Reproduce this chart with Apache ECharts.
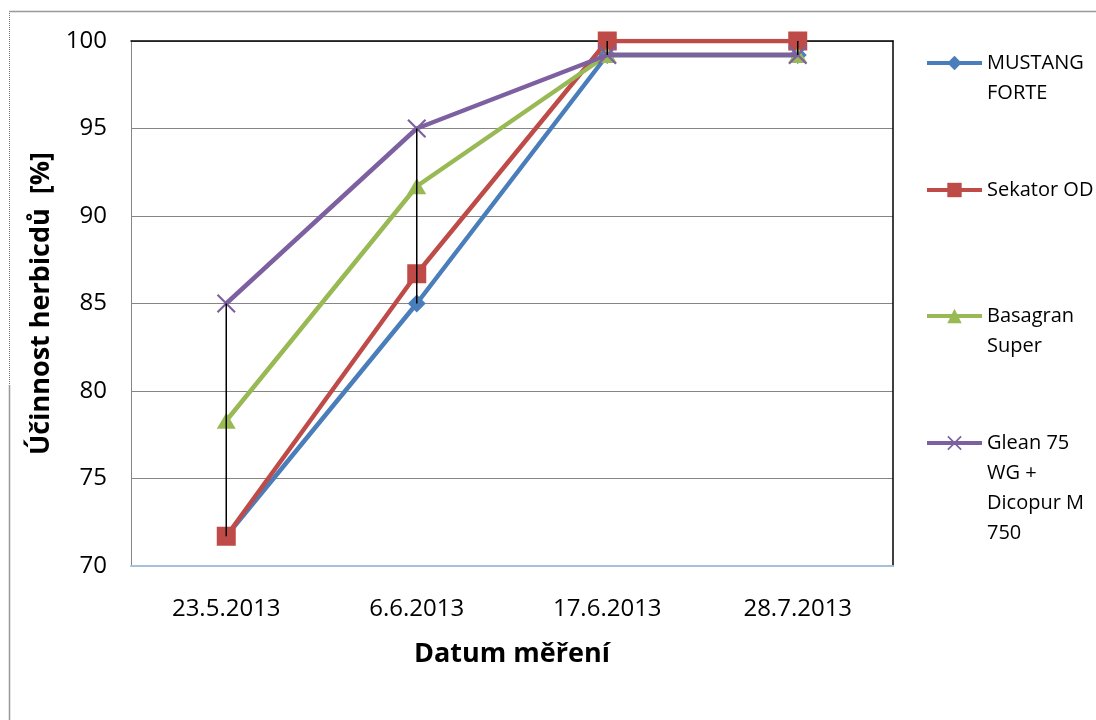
<!DOCTYPE html>
<html>
<head>
<meta charset="utf-8">
<script src="https://cdn.jsdelivr.net/npm/echarts@6/dist/echarts.min.js"></script>
<style>
  html, body { margin: 0; padding: 0; background: #fff; }
  #chart { width: 1096px; height: 720px; }
</style>
</head>
<body>
<div id="chart"></div>
<script>
// Measurement dates
var dates = ['23.5.2013', '6.6.2013', '17.6.2013', '28.7.2013'];

// Herbicide efficacy [%] per product
var mustangForte = [71.7, 85, 99.2, 99.2];
var sekatorOD = [71.7, 86.7, 100, 100];
var basagranSuper = [78.3, 91.7, 99.2, 99.2];
var gleanDicopur = [85, 95, 99.2, 99.2];

var seriesNames = ['MUSTANG FORTE', 'Sekator OD', 'Basagran Super', 'Glean 75 WG + Dicopur M 750'];
var legendLabels = ['MUSTANG\nFORTE', 'Sekator OD', 'Basagran\nSuper', 'Glean 75\nWG +\nDicopur M\n750'];

// Value-axis ticks
var yMin = 70, yMax = 100, yStep = 5;

var allSeries = [mustangForte, sekatorOD, basagranSuper, gleanDicopur];
var colors = ['#4a7ebb', '#be4b48', '#98b954', '#7d60a0'];
var symbols = [
  'diamond',
  'rect',
  'triangle',
  'path://M0,0.8L0.8,0L5,4.2L9.2,0L10,0.8L5.8,5L10,9.2L9.2,10L5,5.8L0.8,10L0,9.2L4.2,5Z'
];
var symbolSizes = [[18, 18], [19, 19], [19, 16], [19, 19]];

// High-low range per date, spanning all products
var ranges = dates.map(function (d, i) {
  var vals = allSeries.map(function (s) { return s[i]; });
  return [i, Math.min.apply(null, vals), Math.max.apply(null, vals)];
});

var FONT = '"Open Sans", sans-serif';
var LH = 30;
var iconY = [63, 190, 316, 443];

var legends = seriesNames.map(function (name, k) {
  var n = legendLabels[k].split('\n').length;
  return {
    data: [name],
    left: 925,
    top: iconY[k] - (2 * n - 1) * LH / 2,
    padding: 0,
    itemWidth: 55,
    itemHeight: 18,
    itemGap: 0,
    selectedMode: false,
    lineStyle: { width: 4 },
    formatter: function () {
      return new Array(n).join('\n') + legendLabels[k];
    },
    textStyle: { fontFamily: FONT, fontSize: 20, color: '#000', lineHeight: LH, padding: [0, 0, 0, 0] }
  };
});

var lineSeries = seriesNames.map(function (name, k) {
  return {
    name: name,
    type: 'line',
    data: allSeries[k],
    symbol: symbols[k],
    symbolSize: symbolSizes[k],
    showAllSymbol: true,
    lineStyle: { color: colors[k], width: 4.5 },
    itemStyle: { color: colors[k] },
    z: 2 + k,
    animation: false
  };
});

var chart = echarts.init(document.getElementById('chart'));
chart.setOption({
  backgroundColor: '#fff',
  animation: false,
  legend: legends,
  grid: { left: 131, right: 203, top: 41, bottom: 154 },
  xAxis: [{
    type: 'category',
    data: dates,
    boundaryGap: true,
    axisLine: { lineStyle: { color: '#a7bfde', width: 2 } },
    axisTick: { alignWithLabel: true, length: 6, lineStyle: { color: '#a7bfde', width: 1 } },
    axisLabel: { fontFamily: FONT, fontSize: 24, color: '#000', margin: 31 },
    name: 'Datum měření',
    nameLocation: 'middle',
    nameGap: 75,
    nameTextStyle: { fontFamily: FONT, fontSize: 27, fontWeight: 'bold', color: '#000' }
  }, {
    type: 'category',
    data: dates,
    position: 'top',
    axisLine: { lineStyle: { color: '#000', width: 1.5 } },
    axisTick: { show: false },
    axisLabel: { show: false }
  }],
  yAxis: [{
    type: 'value',
    min: yMin,
    max: yMax,
    interval: yStep,
    axisLine: { show: true, lineStyle: { color: '#868686', width: 1 } },
    axisTick: { show: false },
    splitLine: { lineStyle: { color: '#868686', width: 1 } },
    axisLabel: { fontFamily: FONT, fontSize: 24, color: '#000', margin: 24 },
    name: 'Účinnost herbicdů  [%]',
    nameLocation: 'middle',
    nameGap: 64,
    nameTextStyle: { fontFamily: FONT, fontSize: 27, fontWeight: 'bold', color: '#000' }
  }, {
    type: 'value',
    min: yMin,
    max: yMax,
    interval: yStep,
    position: 'right',
    axisLine: { show: true, lineStyle: { color: '#000', width: 1.5 } },
    axisTick: { show: false },
    splitLine: { show: false },
    axisLabel: { show: false }
  }],
  graphic: [
    { type: 'line', shape: { x1: 9.5, y1: 11, x2: 9.5, y2: 385 }, style: { stroke: '#777', lineWidth: 1, lineDash: [1, 1] }, silent: true },
    { type: 'line', shape: { x1: 9.5, y1: 385, x2: 9.5, y2: 720 }, style: { stroke: '#999', lineWidth: 1.5 }, silent: true },
    { type: 'line', shape: { x1: 9, y1: 11.5, x2: 1096, y2: 11.5 }, style: { stroke: '#999', lineWidth: 1.5 }, silent: true }
  ],
  series: lineSeries.concat([{
    name: 'range',
    type: 'custom',
    data: ranges,
    z: 10,
    silent: true,
    renderItem: function (params, api) {
      var a = api.coord([api.value(0), api.value(1)]);
      var b = api.coord([api.value(0), api.value(2)]);
      return {
        type: 'line',
        shape: { x1: a[0], y1: a[1], x2: b[0], y2: b[1] },
        style: { stroke: '#000', lineWidth: 1.5 }
      };
    }
  }])
});
</script>
</body>
</html>
